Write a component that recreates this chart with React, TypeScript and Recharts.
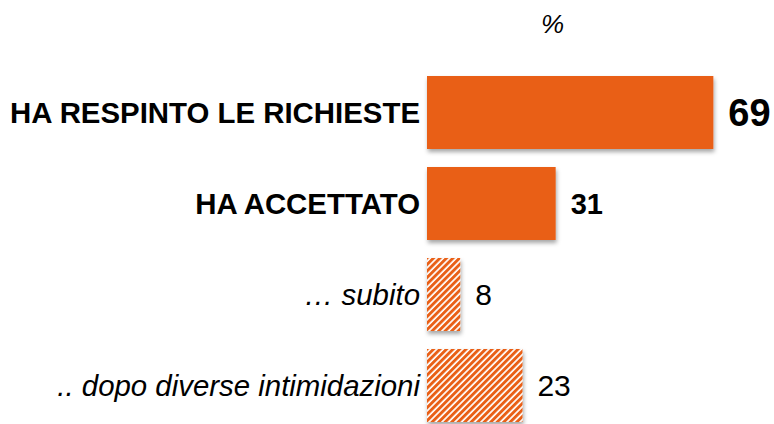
import React from "react";
import { Bar, BarChart, LabelList, XAxis, YAxis } from "recharts";

const categories = [
  "HA RESPINTO LE RICHIESTE",
  "HA ACCETTATO",
  "… subito",
  ".. dopo diverse intimidazioni",
];
const values = [69, 31, 8, 23];

const ORANGE = "#E95E13";
const FONT = "'Liberation Sans', Arial, sans-serif";

const data = categories.map((name, i) => ({ name, value: values[i] }));

// first two rows are solid, the breakdown rows are hatched
const isSolid = (i: number) => i < 2;

function CategoryTick({ x, y, payload, index }: any) {
  const solid = isSolid(index);
  return (
    <text
      x={x}
      y={y}
      textAnchor="end"
      dominantBaseline="central"
      fontFamily={FONT}
      fontSize={29.4}
      fontWeight={solid ? "bold" : "normal"}
      fontStyle={solid ? "normal" : "italic"}
      fill="#000"
    >
      {payload.value}
    </text>
  );
}

function BarShape(props: any) {
  const { x, y, width, height, index } = props;
  return (
    <rect
      x={x}
      y={y}
      width={width}
      height={height}
      fill={isSolid(index) ? ORANGE : "url(#hatch)"}
      filter="url(#shadow)"
    />
  );
}

function ValueLabel(props: any) {
  const { x, y, width, height, value, index } = props;
  const solid = isSolid(index);
  const size = index === 0 ? 38 : solid ? 29 : 30;
  return (
    <text
      x={x + width + 15}
      y={y + height / 2}
      dominantBaseline="central"
      fontFamily={FONT}
      fontSize={size}
      fontWeight={solid ? "bold" : "normal"}
      fill="#000"
    >
      {value}
    </text>
  );
}

export default function App() {
  return (
    <div style={{ position: "absolute", left: 0, top: 0, width: 774, height: 424, overflow: "hidden", background: "#fff" }}>
      <div
        style={{
          position: "absolute",
          left: 541,
          top: 11,
          fontFamily: FONT,
          fontStyle: "italic",
          fontSize: 26,
          lineHeight: "26px",
        }}
      >
        %
      </div>
      <BarChart
        width={774}
        height={440}
        data={data}
        layout="vertical"
        margin={{ top: 67, right: 15, bottom: 9, left: 0 }}
        barCategoryGap={9}
      >
        <defs>
          <pattern id="hatch" patternUnits="userSpaceOnUse" width={4.6} height={4.6} patternTransform="rotate(45)">
            <rect x={0} y={0} width={4.6} height={4.6} fill="#fff" />
            <rect x={0} y={0} width={2.9} height={4.6} fill={ORANGE} />
          </pattern>
          <filter id="shadow" x="-10%" y="-10%" width="130%" height="140%">
            <feDropShadow dx={1} dy={3} stdDeviation={2} floodColor="#000" floodOpacity={0.35} />
          </filter>
        </defs>
        <XAxis type="number" domain={[0, 80]} hide />
        <YAxis
          type="category"
          dataKey="name"
          width={427}
          axisLine={false}
          tickLine={false}
          tickMargin={1}
          tick={<CategoryTick />}
          interval={0}
        />
        <Bar dataKey="value" isAnimationActive={false} shape={<BarShape />}>
          <LabelList dataKey="value" content={<ValueLabel />} />
        </Bar>
      </BarChart>
    </div>
  );
}
